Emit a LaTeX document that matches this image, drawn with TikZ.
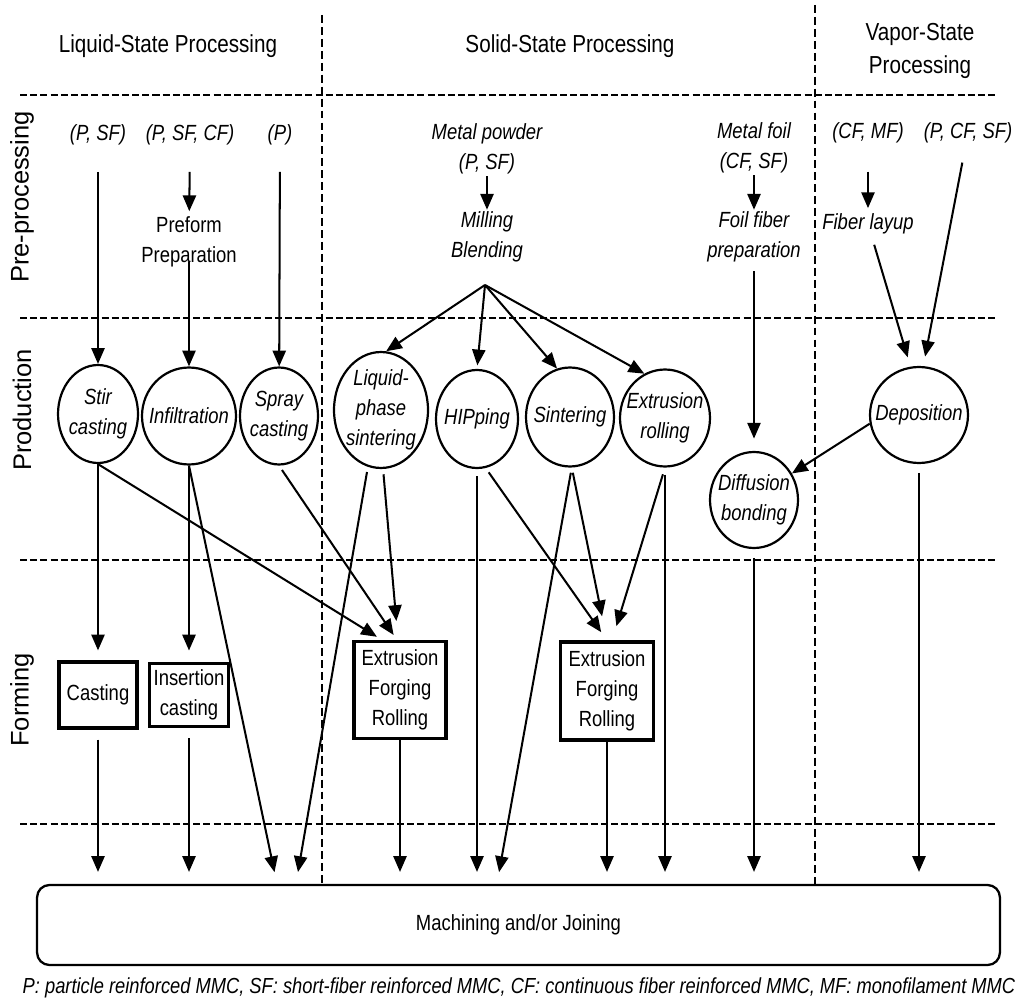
\documentclass[tikz,border=0pt]{standalone}
\usepackage{fontspec}
\setmainfont{Liberation Sans}[FakeStretch=0.84]
\newfontfamily\rowfont{Liberation Sans}
\usetikzlibrary{arrows.meta,shapes.geometric,calc}

\begin{document}
\begin{tikzpicture}
	[x=0.02cm, y=-0.02cm,
	every node/.style={font=\fontsize{12.5}{17}\selectfont, align=center, inner sep=1pt},
	heading/.style={font=\fontsize{14}{18.7}\selectfont},
	rowlabel/.style={font=\rowfont\fontsize{14.5}{17}\selectfont, rotate=90},
	srctext/.style={font=\fontsize{12.5}{17}\selectfont\itshape},
	procnode/.style 2 args={ellipse, draw, line width=1.25pt, inner sep=0pt, minimum width=#1, minimum height=#2},
	formbox/.style 2 args={rectangle, draw, line width=1.8pt, inner sep=2pt, minimum width=#1, minimum height=#2},
	flow/.style={-{Triangle[length=9pt,width=7.5pt]}, line width=1.15pt},
	tomach/.style={flow, shorten >=6.8pt},
	hlane/.style={line width=1.7pt, dash pattern=on 4pt off 1.8pt},
	vlane/.style={line width=0.9pt, dash pattern=on 4.5pt off 2.3pt}]
	\useasboundingbox (0,0) rectangle (1021,1003);

	% lanes
	\draw[hlane] (20,95) -- (997,95);
	\draw[hlane] (20,318) -- (997,318);
	\draw[hlane] (20,560) -- (997,560);
	\draw[hlane] (20,824) -- (997,824);
	\draw[vlane] (322,15) -- (322,885);
	\draw[vlane] (815,5) -- (815,885);

	\node[heading] (liq) at (168,46) {Liquid-State Processing};
	\node[heading] (sol) at (570,46) {Solid-State Processing};
	\node[heading] (vap) at (920,51) {Vapor-State\\Processing};
	\node[rowlabel] (pre) at (22,197) {Pre-processing};
	\node[rowlabel] (prod) at (22,410) {Production};
	\node[rowlabel] (frm) at (22,700) {Forming};

	% pre-processing
	\node[srctext] (psf) at (98,135) {(P, SF)};
	\node[srctext] (psfcf) at (190,135) {(P, SF, CF)};
	\node[srctext] (pp) at (280,135) {(P)};
	\node (preform) at (189,242) {Preform\\Preparation};
	\node[srctext] (mpow) at (487,149) {Metal powder\\(P, SF)};
	\node[srctext] (mill) at (487,237) {Milling\\Blending};
	\coordinate (fan) at (485,285);
	\node[srctext] (foil) at (754,148) {Metal foil\\(CF, SF)};
	\node[srctext] (foilprep) at (754,237) {Foil fiber\\preparation};
	\node[srctext] (cfmf) at (868,133) {(CF, MF)};
	\node[srctext] (pcfsf) at (968,133) {(P, CF, SF)};
	\node[srctext] (layup) at (868,224) {Fiber layup};

	% production
	\node[procnode={1.6cm}{1.96cm}, label={[srctext]center:{Stir\\casting}}] (stir) at (98,414) {};
	\node[procnode={1.88cm}{1.94cm}, label={[srctext]center:Infiltration}] (infil) at (189,416) {};
	\node[procnode={1.56cm}{1.94cm}, label={[srctext]center:{Spray\\casting}}] (spray) at (279,416) {};
	\node[procnode={1.88cm}{2.32cm}, label={[srctext]center:{Liquid-\\phase\\sintering}}] (lps) at (381,410) {};
	\node[procnode={1.64cm}{1.96cm}, label={[srctext]center:HIPping}] (hip) at (477,419) {};
	\node[procnode={1.76cm}{1.98cm}, label={[srctext]center:Sintering}] (sint) at (570,417) {};
	\node[procnode={1.8cm}{1.94cm}, label={[srctext]center:{Extrusion\\rolling}}] (extr) at (665,418) {};
	\node[procnode={1.76cm}{1.92cm}, label={[srctext]center:{Diffusion\\bonding}}] (diff) at (754,500) {};
	\node[procnode={1.96cm}{1.92cm}, label={[srctext]center:Deposition}] (dep) at (919,415) {};

	% forming
	\node[formbox={1.56cm}{1.32cm}] (casting) at (98,695) {Casting};
	\node[formbox={1.58cm}{1.26cm}] (insert) at (189,695) {Insertion\\casting};
	\node[formbox={1.84cm}{1.94cm}] (box1) at (400,690) {Extrusion\\Forging\\Rolling};
	\node[formbox={1.86cm}{1.96cm}] (box2) at (607,691) {Extrusion\\Forging\\Rolling};

	\node[draw, rounded corners=7pt, line width=1.3pt, minimum width=19.26cm, minimum height=1.6cm] (mach) at (518.5,925) {Machining and/or Joining};
	\node[srctext, font=\fontsize{12.4}{14}\selectfont\itshape] (note) at (519,988) {P: particle reinforced MMC, SF: short-fiber reinforced MMC, CF: continuous fiber reinforced MMC, MF: monofilament MMC};

	\draw[flow, shorten <=14pt] (psf) -- (stir);
	\draw[flow, shorten <=14pt, shorten >=2pt] (psfcf) -- (preform);
	\draw[flow, shorten <=-4pt] (preform) -- (infil);
	\draw[flow, shorten <=14pt] (pp) -- (spray);
	\draw[flow] (mpow) -- (mill);
	\draw[flow] (fan) -- (lps.85);
	\draw[flow, shorten >=2pt] (fan) -- (hip.north);
	\draw[flow] (fan) -- (sint.105);
	\draw[flow] (fan) -- (extr.115);
	\draw[flow] (foil) -- (foilprep);
	\draw[flow, shorten <=4pt, shorten >=7pt] (foilprep) -- (diff);
	\draw[flow, shorten <=15pt, shorten >=2pt] (cfmf) -- (layup);
	\draw[flow, shorten <=5pt, shorten >=5.5pt] (layup) -- (dep.100);
	\draw[flow, shorten <=10pt, shorten >=5.5pt] (pcfsf) -- (dep.85);

	\draw[flow, shorten >=5.7pt] (stir) -- (casting);
	\draw[flow, shorten >=3.4pt] (stir.south) -- ($(box1.north)+(-18,0)$);
	\draw[flow, shorten >=6.5pt] (infil) -- (insert);
	\draw[tomach] (infil.south) -- ($(mach.north west)+(241,0)$);
	\draw[flow, shorten <=3pt, shorten >=3.4pt] (spray.south) -- ($(box1.north)+(-3,0)$);
	\draw[flow, shorten <=3pt, shorten >=10.8pt] (lps.-88) -- ($(box1.north)+(-2,0)$);
	\draw[tomach, shorten <=3pt] (lps.-103) -- ($(mach.north west)+(260,0)$);
	\draw[tomach, shorten <=4pt] (hip) -- (hip |- mach.north);
	\draw[flow, shorten <=3pt, shorten >=5.7pt] (hip.-80) -- (box2.north);
	\draw[tomach, shorten <=3pt] (sint.-88) -- ($(mach.north west)+(461,0)$);
	\draw[flow, shorten <=3pt, shorten >=14pt] (sint.-88) -- (box2.north);
	\draw[flow, shorten <=4pt, shorten >=8.5pt] (extr.south) -- ($(box2.north)+(5,0)$);
	\draw[tomach, shorten <=4pt] (extr.south) -- (extr.south |- mach.north);
	\draw[tomach, shorten <=5pt] (diff) -- (diff |- mach.north);
	\draw[flow] (dep.190) -- (diff.35);
	\draw[tomach, shorten <=5pt] (dep) -- (dep |- mach.north);

	\draw[tomach, shorten <=5.7pt] (casting) -- (casting |- mach.north);
	\draw[tomach, shorten <=5.7pt] (insert) -- (insert |- mach.north);
	\draw[tomach] (box1) -- (box1 |- mach.north);
	\draw[tomach] (box2) -- (box2 |- mach.north);
\end{tikzpicture}
\end{document}
